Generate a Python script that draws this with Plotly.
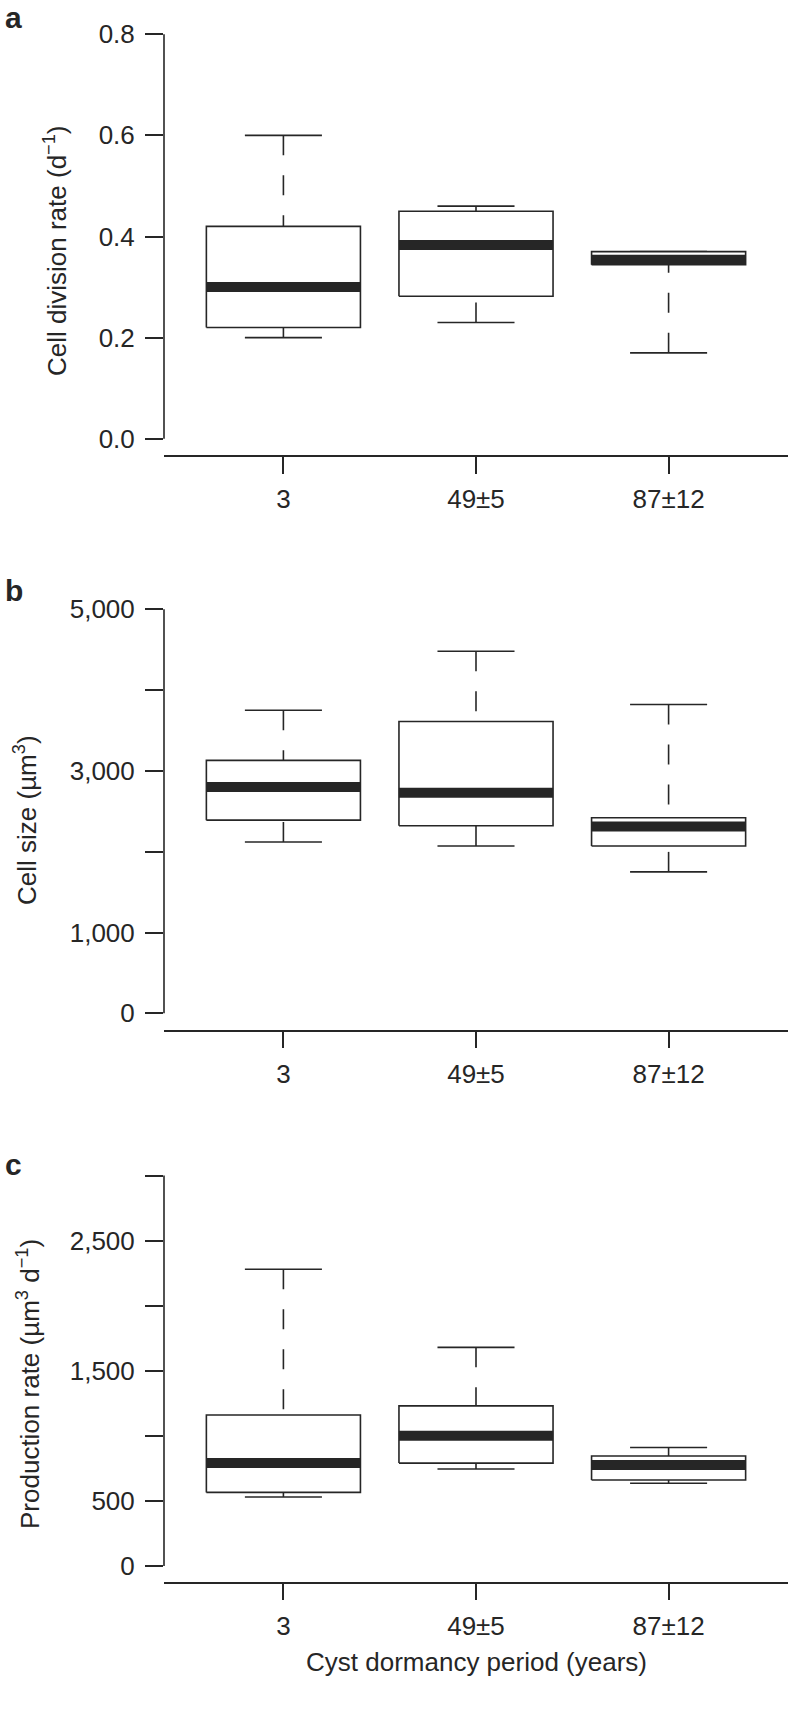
import plotly.graph_objects as go

W, H = 788, 1729
INK = "#262626"
FONT = "Liberation Sans, Arial, Helvetica, sans-serif"

groups = ["3", "49±5", "87±12"]

# a: cell division rate (d-1)
div_low = [0.20, 0.23, 0.17]
div_q1 = [0.22, 0.282, 0.344]
div_med = [0.30, 0.383, 0.354]
div_q3 = [0.42, 0.45, 0.37]
div_high = [0.60, 0.46, 0.37]
div_ticks = [0.0, 0.2, 0.4, 0.6, 0.8]
div_ticktext = ["0.0", "0.2", "0.4", "0.6", "0.8"]
div_minor = []

# b: cell size (um3)
size_low = [2120, 2070, 1750]
size_q1 = [2390, 2320, 2070]
size_med = [2800, 2730, 2310]
size_q3 = [3130, 3610, 2420]
size_high = [3750, 4480, 3820]
size_ticks = [0, 1000, 3000, 5000]
size_ticktext = ["0", "1,000", "3,000", "5,000"]
size_minor = [2000, 4000]

# c: production rate (um3 d-1)
prod_low = [530, 745, 635]
prod_q1 = [565, 790, 660]
prod_med = [790, 1000, 775]
prod_q3 = [1160, 1230, 845]
prod_high = [2280, 1680, 910]
prod_ticks = [0, 500, 1500, 2500]
prod_ticktext = ["0", "500", "1,500", "2,500"]
prod_minor = [1000, 2000, 3000]


def px_y(y):
    return 1 - y / H


def add_panel(fig, n, low, q1, med, q3, high, ticks, ticktext, minor,
              top, bottom):
    sfx = "" if n == 1 else str(n)
    xa, ya = "x" + sfx, "y" + sfx
    line = dict(color=INK, width=1.6)

    for i in range(len(groups)):
        x = i + 1
        # whiskers (dash pattern starts at the cap, like R)
        for end, hinge in ((high[i], q3[i]), (low[i], q1[i])):
            fig.add_trace(go.Scatter(
                x=[x, x], y=[end, hinge], mode="lines",
                line=dict(color=INK, width=1.6, dash="20px,20px"),
                xaxis=xa, yaxis=ya, hoverinfo="skip",
            ))
            fig.add_trace(go.Scatter(
                x=[x - 0.2, x + 0.2], y=[end, end], mode="lines",
                line=line, xaxis=xa, yaxis=ya, hoverinfo="skip",
            ))
        # box
        fig.add_trace(go.Scatter(
            x=[x - 0.4, x + 0.4, x + 0.4, x - 0.4, x - 0.4],
            y=[q1[i], q1[i], q3[i], q3[i], q1[i]],
            mode="lines", fill="toself", fillcolor="white",
            line=line, xaxis=xa, yaxis=ya, hoverinfo="skip",
        ))
        # median
        fig.add_trace(go.Scatter(
            x=[x - 0.4, x + 0.4], y=[med[i], med[i]], mode="lines",
            line=dict(color=INK, width=10), xaxis=xa, yaxis=ya,
            hoverinfo="skip",
        ))

    all_ticks = list(ticks) + list(minor)
    lo, hi = min(all_ticks), max(all_ticks)
    pad = 0.04 * (hi - lo)
    fig.layout["xaxis" + sfx] = dict(
        domain=[164 / W, 1], range=[0.38, 3.62], anchor=ya,
        tickvals=[1, 2, 3], ticktext=groups, automargin=False,
        ticks="outside", ticklen=17, tickwidth=1.6, tickcolor=INK,
        showline=True, linecolor=INK, linewidth=1.6,
        showgrid=False, zeroline=False, ticklabelstandoff=3,
        tickfont=dict(size=26, color=INK, family=FONT),
    )
    fig.layout["yaxis" + sfx] = dict(
        domain=[px_y(bottom), px_y(top)], range=[lo - pad, hi + pad],
        anchor=xa, tickvals=ticks, ticktext=ticktext, automargin=False,
        ticks="outside", ticklen=18, tickwidth=1.6, tickcolor=INK,
        showline=False, showgrid=False, zeroline=False,
        ticklabelstandoff=5,
        tickfont=dict(size=26, color=INK, family=FONT),
        minor=dict(tickvals=minor, ticks="outside", ticklen=18,
                   tickwidth=1.6, tickcolor=INK, showgrid=False),
    )
    # R style axis line: only between first and last tick
    fig.add_shape(
        type="line", xref=xa + " domain", x0=0, x1=0,
        yref=ya, y0=lo, y1=hi, line=line,
    )


fig = go.Figure()
add_panel(fig, 1, div_low, div_q1, div_med, div_q3, div_high,
          div_ticks, div_ticktext, div_minor, 18, 455)
add_panel(fig, 2, size_low, size_q1, size_med, size_q3, size_high,
          size_ticks, size_ticktext, size_minor, 593, 1029.5)
add_panel(fig, 3, prod_low, prod_q1, prod_med, prod_q3, prod_high,
          prod_ticks, prod_ticktext, prod_minor, 1160, 1581.5)

annotations = []
for letter, ly in (("a", 17), ("b", 591), ("c", 1164)):
    annotations.append(dict(
        text="<b>%s</b>" % letter, x=3 / W, y=px_y(ly), xref="paper",
        yref="paper", xanchor="left", yanchor="middle", showarrow=False,
        font=dict(size=30, color=INK, family=FONT),
    ))

ytitles = [
    ("Cell division rate (d<sup>−1</sup>)", 55, 251),
    ("Cell size (µm<sup>3</sup>)", 26, 820),
    ("Production rate (µm<sup>3</sup> d<sup>−1</sup>)", 28, 1384),
]
for text, tx, ty in ytitles:
    annotations.append(dict(
        text=text, x=tx / W, y=px_y(ty), xref="paper", yref="paper",
        xanchor="center", yanchor="middle", textangle=-90, showarrow=False,
        font=dict(size=26, color=INK, family=FONT),
    ))

annotations.append(dict(
    text="Cyst dormancy period (years)", x=476 / W, y=px_y(1662),
    xref="paper", yref="paper", xanchor="center", yanchor="middle",
    showarrow=False, font=dict(size=26, color=INK, family=FONT),
))

fig.update_layout(
    width=W, height=H, margin=dict(l=0, r=0, t=0, b=0),
    paper_bgcolor="white", plot_bgcolor="white", showlegend=False,
    annotations=annotations,
)

# drop the browser's default 8px body margin so the figure sits at 0,0
fig.write_html(
    "out.html",
    config={"displayModeBar": False},
    post_script="document.body.style.margin='0';",
)
